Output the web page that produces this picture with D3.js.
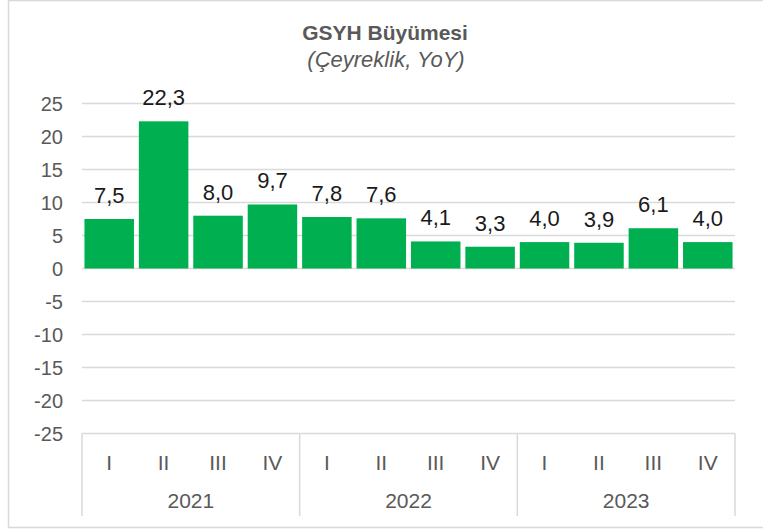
<!DOCTYPE html>
<html>
<head>
<meta charset="utf-8">
<script src="https://cdn.jsdelivr.net/npm/d3@7"></script>
<style>
  body { margin: 0; background: #fff; }
  text { font-family: "Liberation Sans", Arial, sans-serif; }
</style>
</head>
<body>
<svg id="chart" width="763" height="529"></svg>
<script>
var years = ['2021', '2022', '2023'],
    quarters = ['I', 'II', 'III', 'IV'],
    values = [7.5, 22.3, 8.0, 9.7, 7.8, 7.6, 4.1, 3.3, 4.0, 3.9, 6.1, 4.0],
    yTicks = [25, 20, 15, 10, 5, 0, -5, -10, -15, -20, -25];

var svg = d3.select('#chart'),
    left = 82, right = 735,
    fmt = function(d) { return d3.format('.1f')(d).replace('.', ','); };

var keys = [];
years.forEach(function(y) { quarters.forEach(function(q) { keys.push(y + '-' + q); }); });

var x = d3.scaleBand().domain(keys).range([left, right]).paddingInner(0.09).paddingOuter(0.045),
    y = d3.scaleLinear().domain([-25, 25]).range([433.5, 103.5]),
    xYear = d3.scaleBand().domain(years).range([left, right]);

// frame
svg.append('rect').attr('x', 8.5).attr('y', 0.5).attr('width', 770).attr('height', 527)
  .attr('fill', 'none').attr('stroke', '#d9d9d9').attr('stroke-width', 1.5);

// title
svg.append('text').attr('x', 385).attr('y', 40).attr('text-anchor', 'middle')
  .attr('font-size', 21).attr('font-weight', 'bold').attr('fill', '#595959').text('GSYH Büyümesi');
svg.append('text').attr('x', 386).attr('y', 67).attr('text-anchor', 'middle')
  .attr('font-size', 22).attr('font-style', 'italic').attr('fill', '#595959').text('(Çeyreklik, YoY)');

// gridlines
svg.selectAll('.grid').data(yTicks).enter().append('line')
  .attr('x1', left).attr('x2', right)
  .attr('y1', function(d) { return y(d); }).attr('y2', function(d) { return y(d); })
  .attr('stroke', '#d9d9d9').attr('stroke-width', 1.5);

svg.selectAll('.ytick').data(yTicks).enter().append('text')
  .attr('x', 63).attr('y', function(d) { return y(d) + 7; })
  .attr('text-anchor', 'end').attr('font-size', 20).attr('fill', '#595959')
  .text(function(d) { return d; });

// bars
svg.selectAll('.bar').data(values).enter().append('rect')
  .attr('x', function(d, i) { return x(keys[i]); })
  .attr('width', x.bandwidth())
  .attr('y', function(d) { return y(d); })
  .attr('height', function(d) { return y(0) - y(d); })
  .attr('fill', '#00b050');

svg.selectAll('.lbl').data(values).enter().append('text')
  .attr('x', function(d, i) { return x(keys[i]) + x.bandwidth() / 2; })
  .attr('y', function(d) { return y(d) - 16; })
  .attr('text-anchor', 'middle').attr('font-size', 22).attr('fill', '#1a1a1a')
  .text(fmt);

// category axis box
var bottom = 516;
svg.selectAll('.sep').data(years.concat(['end'])).enter().append('line')
  .attr('x1', function(d, i) { return i < years.length ? xYear(d) : right; })
  .attr('x2', function(d, i) { return i < years.length ? xYear(d) : right; })
  .attr('y1', y(-25)).attr('y2', bottom)
  .attr('stroke', '#d9d9d9').attr('stroke-width', 1.5);

svg.selectAll('.qlbl').data(keys).enter().append('text')
  .attr('x', function(d) { return x(d) + x.bandwidth() / 2; })
  .attr('y', 470).attr('text-anchor', 'middle').attr('font-size', 21).attr('fill', '#595959')
  .text(function(d) { return d.split('-')[1]; });

svg.selectAll('.ylbl').data(years).enter().append('text')
  .attr('x', function(d) { return xYear(d) + xYear.bandwidth() / 2; })
  .attr('y', 508).attr('text-anchor', 'middle').attr('font-size', 21).attr('fill', '#595959')
  .text(function(d) { return d; });
</script>
</body>
</html>
